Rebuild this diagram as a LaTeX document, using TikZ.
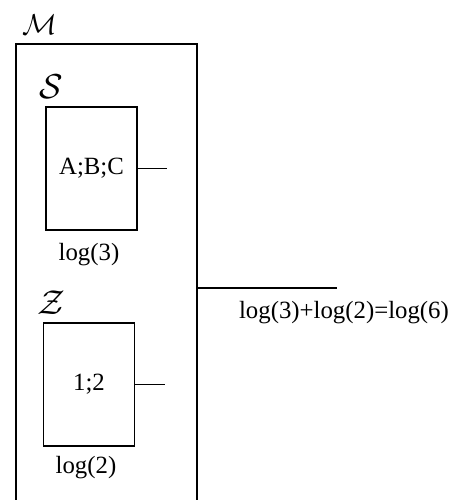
\documentclass[tikz,border=0pt]{standalone}
\usepackage{fontspec}
\setmainfont{Liberation Serif}
\begin{document}
\begin{tikzpicture}[x=0.5pt,y=-0.5pt, line width=0.8pt,
  every node/.style={font=\fontsize{12.4}{14}\selectfont},
  inbox/.style={draw, minimum width=45.5pt, minimum height=61.5pt, inner sep=0pt},
  lbl/.style={inner sep=0pt},
  cal/.style={inner sep=0pt, font=\fontsize{16}{18}\selectfont}]
\useasboundingbox (0,0) rectangle (459,500);
\node[cal, font=\fontsize{14.4}{16}\selectfont] (Mlab) at (40,25) {$\mathcal{M}$};
\coordinate (Mbl) at (16,500);
\coordinate (Mtl) at (16,44);
\coordinate (Mtr) at (197,44);
\coordinate (Mbr) at (197,500);
\draw (Mbl) -- (Mtl) -- (Mtr) -- (Mbr);
\node[cal] (Slab) at (51,87) {$\mathcal{S}$};
\node[inbox] (S) at (91.5,168.5) {A;B;C};
\coordinate (Send) at (167,168.5);
\draw (S.east) -- (Send);
\node[lbl] (Slog) at (89,255) {log(3)};
\node[cal] (Zlab) at (51,303) {$\mathcal{Z}$};
\node[inbox] (Z) at (89,384.5) {1;2};
\coordinate (Zend) at (165,384.5);
\draw (Z.east) -- (Zend);
\node[lbl] (Zlog) at (86,468) {log(2)};
\coordinate (Mout) at (197,288);
\coordinate (Lend) at (337,288);
\draw (Mout) -- (Lend);
\node[lbl] (F) at (344,313) {log(3)+log(2)=log(6)};
\end{tikzpicture}
\end{document}
